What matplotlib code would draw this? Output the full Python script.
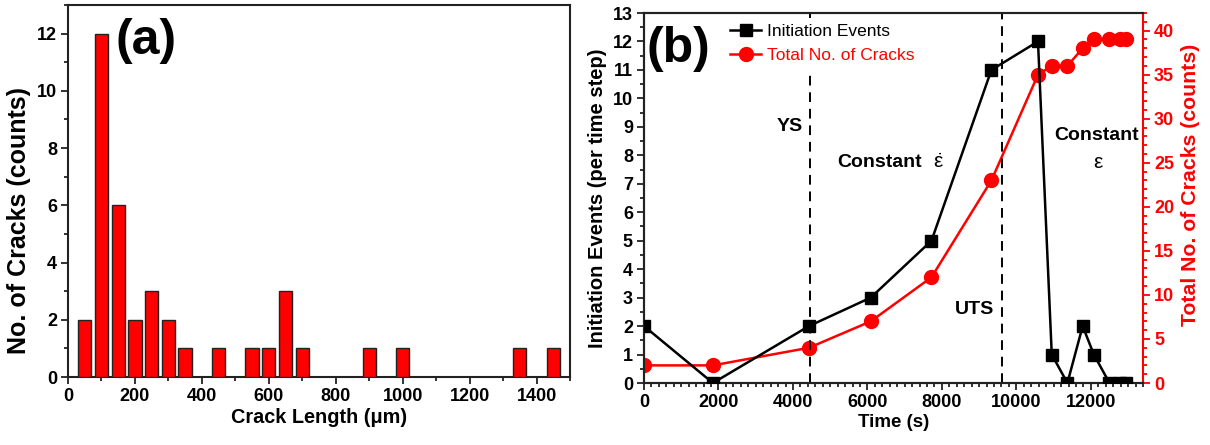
import matplotlib
matplotlib.use("Agg")
import matplotlib.pyplot as plt
from matplotlib.ticker import MultipleLocator
from matplotlib.lines import Line2D

plt.rcParams['font.family'] = ['Liberation Sans', 'DejaVu Sans']
plt.rcParams['mathtext.fontset'] = 'custom'
plt.rcParams['mathtext.rm'] = 'Liberation Sans'
plt.rcParams['mathtext.it'] = 'Liberation Sans'
plt.rcParams['mathtext.default'] = 'regular'

# ---- Panel (a) data: crack length histogram ----
bin_centers = [50, 100, 150, 200, 250, 300, 350, 450, 550, 600, 650, 700, 900, 1000, 1350, 1450]
crack_counts = [2, 12, 6, 2, 3, 2, 1, 1, 1, 1, 3, 1, 1, 1, 1, 1]

# ---- Panel (b) data ----
time_s = [0, 1850, 4430, 6090, 7720, 9330, 10580, 10950, 11370, 11780, 12080, 12500, 12790, 12940]
initiation_events = [2, 0, 2, 3, 5, 11, 12, 1, 0, 2, 1, 0, 0, 0]
total_cracks = [2, 2, 4, 7, 12, 23, 35, 36, 36, 38, 39, 39, 39, 39]
ys_time = 4450
uts_time = 9620

W, H = 1210, 445
fig = plt.figure(figsize=(W / 100, H / 100), dpi=100)

def frac(x0, x1, y0, y1):
    return [x0 / W, (H - y1) / H, (x1 - x0) / W, (y1 - y0) / H]

TICK_FS = 13
LAB_FS = 13.5

# ---------------- Panel (a) ----------------
axa = fig.add_axes(frac(68, 570, 5, 377))
axa.bar(bin_centers, crack_counts, width=40, color='#ff0000', edgecolor='#222222', linewidth=1.0, zorder=3)
axa.set_xlim(0, 1500)
axa.set_ylim(0, 13)
axa.xaxis.set_major_locator(MultipleLocator(200))
axa.xaxis.set_minor_locator(MultipleLocator(100))
axa.yaxis.set_major_locator(MultipleLocator(2))
axa.yaxis.set_minor_locator(MultipleLocator(1))
axa.tick_params(which='both', direction='out', top=False, right=False, width=1.3, color='#222222')
axa.tick_params(which='major', length=5, labelsize=TICK_FS, pad=3)
axa.tick_params(which='minor', length=3)
for lab in axa.get_xticklabels() + axa.get_yticklabels():
    lab.set_fontweight('bold')
for sp in axa.spines.values():
    sp.set_linewidth(1.5)
    sp.set_color('#222222')
axa.set_xlabel('Crack Length (\u03bcm)', fontsize=14.3, fontweight='bold', labelpad=2)
axa.set_ylabel('No. of Cracks (counts)', fontsize=18, fontweight='bold', labelpad=4)
axa.yaxis.label.set_y(0.42)
axa.text(0.094, 0.903, '(a)', transform=axa.transAxes, fontsize=36, fontweight='bold',
         ha='left', va='center')

# ---------------- Panel (b) ----------------
axb = fig.add_axes(frac(644, 1143, 13, 383))
axr = axb.twinx()
axb.set_zorder(axr.get_zorder() + 1)
axb.patch.set_visible(False)

axr.plot(time_s, total_cracks, '-o', color='#ff0000', lw=1.8, ms=10, zorder=3)
axb.plot(time_s, initiation_events, '-s', color='black', lw=1.8, ms=8.5, zorder=4)
axb.axvline(ys_time, color='black', lw=1.4, ls=(0, (5, 3.5)), zorder=2)
axb.axvline(uts_time, color='black', lw=1.4, ls=(0, (5, 3.5)), zorder=2)

axb.set_xlim(0, 13400)
axb.set_ylim(0, 13)
axr.set_ylim(0, 42)
axb.xaxis.set_major_locator(MultipleLocator(2000))
axb.xaxis.set_minor_locator(MultipleLocator(200))
axb.yaxis.set_major_locator(MultipleLocator(1))
axb.yaxis.set_minor_locator(MultipleLocator(0.5))
axr.yaxis.set_major_locator(MultipleLocator(5))
axr.yaxis.set_minor_locator(MultipleLocator(1))

axb.tick_params(which='both', direction='out', top=False, right=False, width=1.3, color='#222222')
axb.tick_params(which='major', length=5, labelsize=TICK_FS, pad=3)
axb.tick_params(which='minor', length=3)
axr.tick_params(which='both', direction='out', width=1.3, color='#ff0000', labelcolor='#ff0000')
axr.tick_params(which='major', length=5, labelsize=TICK_FS, pad=3)
axr.tick_params(which='minor', length=3)
for lab in axb.get_xticklabels() + axb.get_yticklabels() + axr.get_yticklabels():
    lab.set_fontweight('bold')
for sp in axb.spines.values():
    sp.set_linewidth(1.5)
    sp.set_color('#222222')
axb.spines['right'].set_visible(False)
for name, sp in axr.spines.items():
    sp.set_linewidth(1.5)
    sp.set_color('#222222')
axr.spines['right'].set_color('#ff0000')

axb.set_xlabel('Time (s)', fontsize=LAB_FS, fontweight='bold', labelpad=2)
axb.set_ylabel('Initiation Events (per time step)', fontsize=14.5, fontweight='bold', labelpad=4)
axr.set_ylabel('Total No. of Cracks (counts)', fontsize=15.3, fontweight='bold',
               color='#ff0000', labelpad=5)
axr.yaxis.label.set_y(0.535)

axb.text(0.006, 0.904, '(b)', transform=axb.transAxes, fontsize=36, fontweight='bold',
         ha='left', va='center')

axb.text(3900, 9.0, 'YS', fontsize=14, fontweight='bold', ha='center', va='center')
axb.text(5200, 7.73, 'Constant', fontsize=14, fontweight='bold', ha='left', va='center')
axb.text(7920, 7.73, r'$\dot{\varepsilon}$', fontsize=15, ha='center', va='center')
axb.text(8870, 2.6, 'UTS', fontsize=14, fontweight='bold', ha='center', va='center')
axb.text(12160, 8.7, 'Constant', fontsize=14, fontweight='bold', ha='center', va='center')
axb.text(12180, 7.73, '\u03b5', fontsize=15, ha='center', va='center')

h1 = Line2D([], [], color='black', marker='s', lw=1.8, ms=8.5)
h2 = Line2D([], [], color='#ff0000', marker='o', lw=1.8, ms=10)
leg = axb.legend([h1, h2], ['Initiation Events', 'Total No. of Cracks'], loc='upper left',
                 bbox_to_anchor=(0.15, 1.0), frameon=True, fontsize=12.5, handlelength=1.8,
                 handletextpad=0.3, borderpad=0.35, labelspacing=0.5, borderaxespad=0.3)
leg.get_frame().set_edgecolor('none')
leg.get_frame().set_facecolor('white')
leg.get_frame().set_alpha(1.0)
leg.texts[1].set_color('#ff0000')

fig.savefig('out.png', dpi=100)
